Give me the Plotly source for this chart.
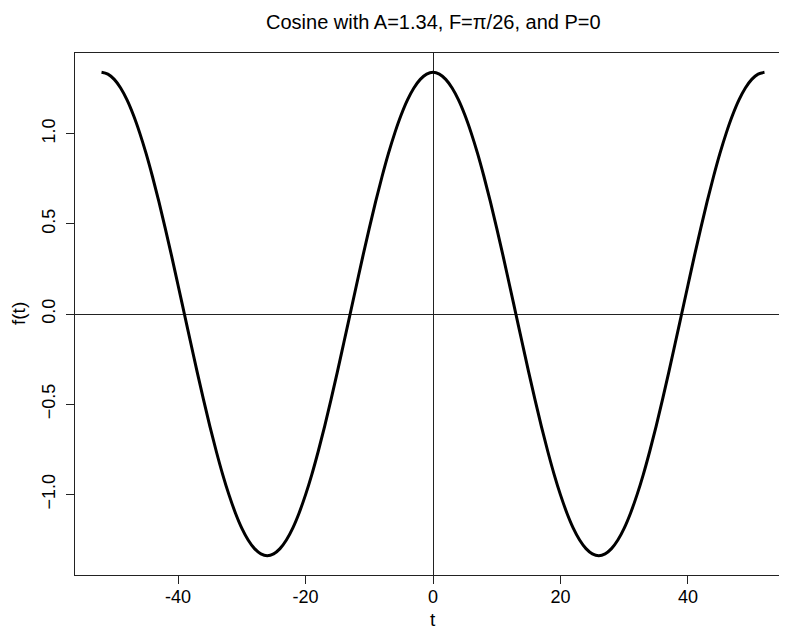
"""Cosine curve in the style of an R base-graphics plot."""
import plotly.graph_objects as go

# values at every unit of t
t_values = [-52, -51, -50, -49, -48, -47, -46, -45, -44, -43, -42, -41, -40,
            -39, -38, -37, -36, -35, -34, -33, -32, -31, -30, -29, -28, -27,
            -26, -25, -24, -23, -22, -21, -20, -19, -18, -17, -16, -15, -14,
            -13, -12, -11, -10, -9, -8, -7, -6, -5, -4, -3, -2, -1,
            0, 1, 2, 3, 4, 5, 6, 7, 8, 9, 10, 11, 12,
            13, 14, 15, 16, 17, 18, 19, 20, 21, 22, 23, 24, 25,
            26, 27, 28, 29, 30, 31, 32, 33, 34, 35, 36, 37, 38,
            39, 40, 41, 42, 43, 44, 45, 46, 47, 48, 49, 50, 51, 52]
f_values = [1.340, 1.330, 1.301, 1.253, 1.187, 1.103, 1.003, 0.889, 0.761,
            0.623, 0.475, 0.321, 0.161, 0.000, -0.161, -0.321, -0.475, -0.623,
            -0.761, -0.889, -1.003, -1.103, -1.187, -1.253, -1.301, -1.330,
            -1.340, -1.330, -1.301, -1.253, -1.187, -1.103, -1.003, -0.889,
            -0.761, -0.623, -0.475, -0.321, -0.161, 0.000, 0.161, 0.321,
            0.475, 0.623, 0.761, 0.889, 1.003, 1.103, 1.187, 1.253, 1.301,
            1.330,
            1.340, 1.330, 1.301, 1.253, 1.187, 1.103, 1.003, 0.889, 0.761,
            0.623, 0.475, 0.321, 0.161, 0.000, -0.161, -0.321, -0.475, -0.623,
            -0.761, -0.889, -1.003, -1.103, -1.187, -1.253, -1.301, -1.330,
            -1.340, -1.330, -1.301, -1.253, -1.187, -1.103, -1.003, -0.889,
            -0.761, -0.623, -0.475, -0.321, -0.161, 0.000, 0.161, 0.321,
            0.475, 0.623, 0.761, 0.889, 1.003, 1.103, 1.187, 1.253, 1.301,
            1.330, 1.340]

x_ticks = [-40, -20, 0, 20, 40]
y_ticks = [-1.0, -0.5, 0.0, 0.5, 1.0]

title_text = "Cosine with A=1.34, F=\u03c0/26, and P=0"
x_label = "t"
y_label = "f(t)"

FONT = "Liberation Sans, Arial, Helvetica, sans-serif"

fig = go.Figure()
fig.add_trace(go.Scatter(
    x=t_values, y=f_values,
    mode="lines",
    line=dict(color="black", width=3, shape="spline", smoothing=1.0),
    showlegend=False,
    hoverinfo="skip",
))

axis_common = dict(
    showline=True, mirror=True, linecolor="#222", linewidth=1,
    ticks="outside", ticklen=8, tickwidth=1, tickcolor="#222",
    showgrid=False,
    zeroline=True, zerolinecolor="#222", zerolinewidth=1,
    tickfont=dict(family=FONT, size=18, color="black"),
)

fig.update_xaxes(
    range=[-56.16, 56.16], tickvals=x_ticks, ticktext=[str(v) for v in x_ticks],
    ticklabelstandoff=-3, **axis_common,
)
fig.update_yaxes(
    range=[-1.4472, 1.4472], tickvals=y_ticks, tickformat=".1f",
    tickangle=-90, ticklabelstandoff=4, **axis_common,
)

fig.add_annotation(text=title_text, xref="paper", yref="paper", x=0.5, y=1,
                   yshift=31, showarrow=False, yanchor="middle",
                   font=dict(family=FONT, size=20, color="black"))
fig.add_annotation(text=x_label, xref="paper", yref="paper", x=0.5, y=0,
                   yshift=-44, showarrow=False, yanchor="middle", borderpad=0,
                   font=dict(family=FONT, size=19, color="black"))
fig.add_annotation(text=y_label, xref="paper", yref="paper", x=0, y=0.5,
                   xshift=-57, showarrow=False, xanchor="center", textangle=-90,
                   font=dict(family=FONT, size=19, color="black"))

fig.update_layout(
    width=787, height=630,
    margin=dict(l=67, r=4, t=45, b=63),
    paper_bgcolor="white", plot_bgcolor="white",
)

fig.write_html("out.html")
